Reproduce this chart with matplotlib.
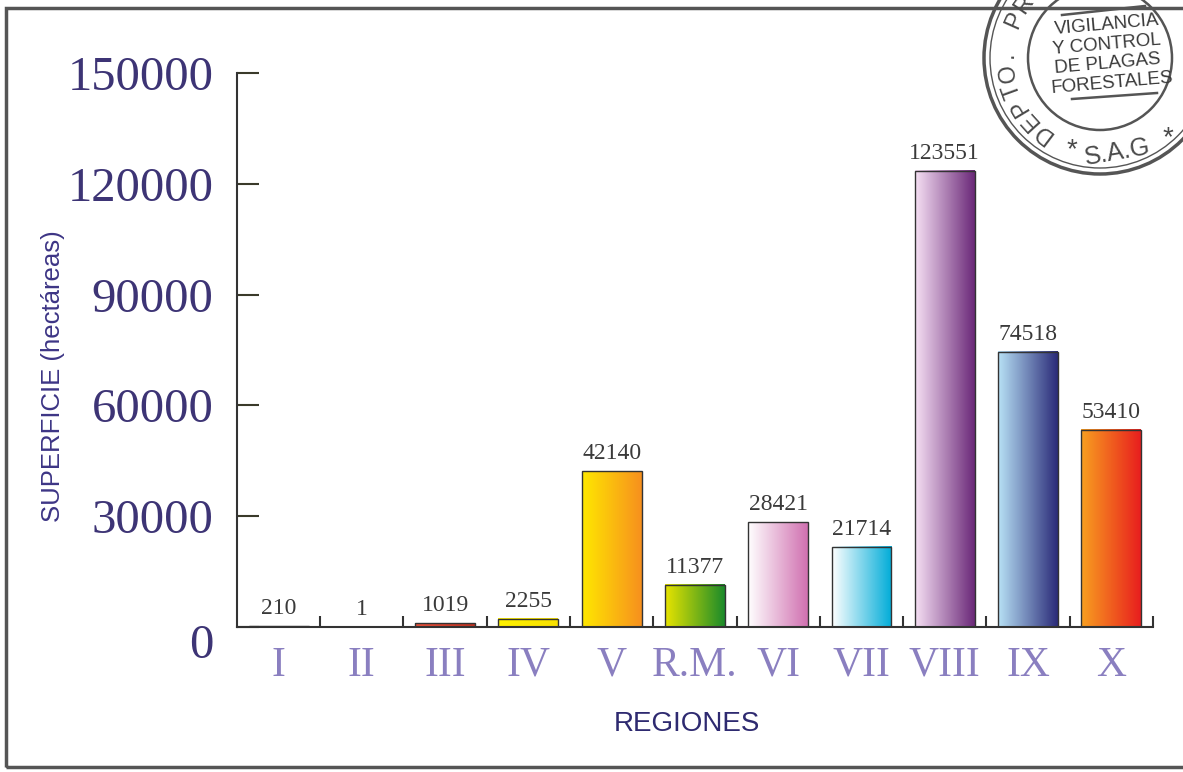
import numpy as np
import matplotlib.pyplot as plt
from matplotlib.colors import LinearSegmentedColormap
from matplotlib.patches import Ellipse, Rectangle
from matplotlib.lines import Line2D
from matplotlib.transforms import ScaledTranslation

regiones = ['I', 'II', 'III', 'IV', 'V', 'R.M.', 'VI', 'VII', 'VIII', 'IX', 'X']
superficie = [210, 1, 1019, 2255, 42140, 11377, 28421, 21714, 123551, 74518, 53410]
# gradient (left colour, right colour) for each bar
colores = [('#8890a8', '#3a3f80'), ('#f0f060', '#c8d820'), ('#e8503a', '#c03020'),
           ('#fff200', '#f8e000'), ('#ffe800', '#f7901e'), ('#e8e400', '#1a8a2a'),
           ('#ffffff', '#d070b0'), ('#ffffff', '#00acd8'), ('#f6e0f4', '#6a2878'),
           ('#b8e2f6', '#2a2a78'), ('#f8a020', '#e81e1e')]
yticks = [0, 30000, 60000, 90000, 120000, 150000]

fig = plt.figure(figsize=(11.83, 7.72), dpi=100)
ax = fig.add_axes([0.2003, 0.1878, 0.7743, 0.7176])

x = np.arange(len(regiones))
bars = ax.bar(x, superficie, width=0.72, facecolor='none', edgecolor='#333333', linewidth=1.0, zorder=3)

grad = np.linspace(0, 1, 256).reshape(1, -1)
for b, (c1, c2) in zip(bars, colores):
    cmap = LinearSegmentedColormap.from_list('g', [c1, c2])
    x0, w, h = b.get_x(), b.get_width(), b.get_height()
    ax.imshow(grad, cmap=cmap, aspect='auto', extent=(x0, x0 + w, 0, max(h, 250)),
              zorder=2, interpolation='bilinear')

for xi, v in zip(x, superficie):
    ax.annotate(str(v), (xi, v), xytext=(0, 5), textcoords='offset points',
                ha='center', va='bottom', fontsize=17, family='Liberation Serif', color='#3a3a3a')

ax.set_xlim(-0.5, len(regiones) - 0.5)
ax.set_ylim(0, 150000)
ax.set_yticks(yticks)
ax.set_yticklabels([str(t) for t in yticks], family='Liberation Serif', fontsize=35, color='#3d3475')
ax.set_xticks(x)
ax.set_xticklabels(regiones, family='Liberation Serif', fontsize=30, color='#8a7fc0')
ax.set_xticks(np.arange(len(regiones)) + 0.5, minor=True)
ax.tick_params(axis='x', which='major', length=0, pad=14)
ax.tick_params(axis='x', which='minor', direction='in', length=8, width=1.5, color='#333333')
ax.tick_params(axis='y', direction='in', length=16, width=1.5, color='#3a3a2a', pad=17)

# the zero label sits lower in the original
for i, lab in enumerate(ax.get_yticklabels()):
    dy = -14 if i == 0 else 0
    lab.set_transform(lab.get_transform() + ScaledTranslation(0, dy / 100, fig.dpi_scale_trans))

for s in ['top', 'right']:
    ax.spines[s].set_visible(False)
for s in ['left', 'bottom']:
    ax.spines[s].set_color('#333333')
    ax.spines[s].set_linewidth(1.5)

ax.set_ylabel('SUPERFICIE (hectáreas)', fontsize=18.5, family='Liberation Sans', color='#3d3585')
ax.set_xlabel('REGIONES', fontsize=20, family='Liberation Sans', color='#2e2a70')
ax.yaxis.set_label_coords(-0.188, 0.453)
ax.xaxis.set_label_coords(0.491, -0.152)

# page frame
fig.patches.append(Rectangle((0.005, 0.006), 1.2, 0.984, transform=fig.transFigure,
                             fill=False, edgecolor='#555555', linewidth=2.5))

# stamp (pixel positions measured from top-left)
W, H = 1183, 772
def fx(px):
    return px / W
def fy(py):
    return 1 - py / H
cx, cy = 1100, 58
gris = '#555555'
for r, lw in [(116, 2.5), (110, 1.0), (72, 1.8)]:
    fig.patches.append(Ellipse((fx(cx), fy(cy)), 2 * r / W, 2 * r / H, transform=fig.transFigure,
                               fill=False, edgecolor=gris, linewidth=lw))
for (x1, y1), (x2, y2) in [((1062, 15), (1145, 6)), ((1072, 99), (1157, 93))]:
    fig.lines.append(Line2D([fx(x1), fx(x2)], [fy(y1), fy(y2)], transform=fig.transFigure,
                            color=gris, linewidth=1.8))
narrow = ['Liberation Sans Narrow', 'Liberation Sans']
for txt, (px, py) in zip(['VIGILANCIA', 'Y CONTROL', 'DE PLAGAS', 'FORESTALES'],
                         [(1107, 25), (1107, 45), (1108, 64), (1112, 83)]):
    fig.text(fx(px), fy(py), txt, ha='center', va='center', fontsize=13.5, family=narrow,
             color='#3a3a3a', rotation=5)
fig.text(fx(1117), fy(152), 'S.A.G', ha='center', va='center', fontsize=18,
         family='Liberation Sans', color='#4a4a4a', rotation=10)
for px, py in [(1072, 150), (1168, 138)]:
    fig.text(fx(px), fy(py), '*', ha='center', va='center', fontsize=20,
             family='Liberation Sans', color='#4a4a4a')
letras = 'DEPTO. PR'
for i, ch in enumerate(letras):
    ang = np.deg2rad(233 - i * 11)
    px = cx + 93 * np.cos(ang)
    py = cy - 93 * np.sin(ang)
    fig.text(fx(px), fy(py), ch, ha='center', va='center', fontsize=17, family='Liberation Sans',
             color='#4a4a4a', rotation=np.rad2deg(ang) - 90)

fig.savefig('out.png', dpi=100)
